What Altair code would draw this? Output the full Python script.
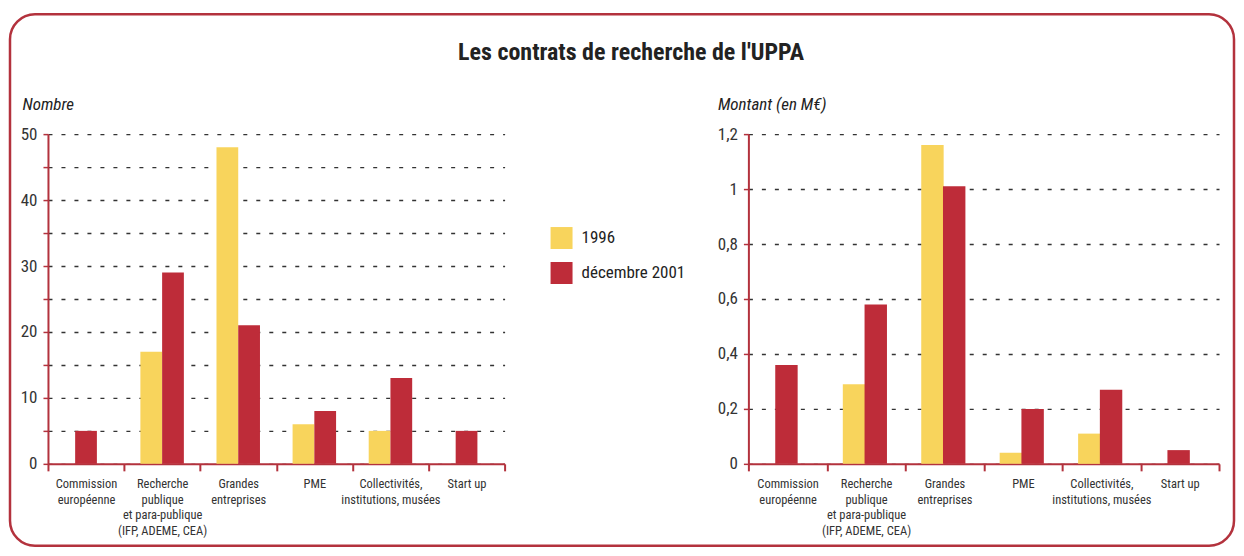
import altair as alt
import pandas as pd

categories = [
    "Commission\neuropéenne",
    "Recherche\npublique\net para-publique\n(IFP, ADEME, CEA)",
    "Grandes\nentreprises",
    "PME",
    "Collectivités,\ninstitutions, musées",
    "Start up",
]
series = ["1996", "décembre 2001"]
nombre_1996 = [0, 17, 48, 6, 5, 0]
nombre_2001 = [5, 29, 21, 8, 13, 5]
montant_1996 = [0, 0.29, 1.16, 0.04, 0.11, 0]
montant_2001 = [0.36, 0.58, 1.01, 0.20, 0.27, 0.05]
nombre_ticks = [0, 5, 10, 15, 20, 25, 30, 35, 40, 45, 50]
montant_ticks = [0, 0.2, 0.4, 0.6, 0.8, 1.0, 1.2]

YELLOW = "#F8D45C"
RED = "#BE2C39"
AXIS_RED = "#B3323D"
FONT = "Roboto Condensed"
SLOTS = ["s0", "s1", "L", "C", "R", "s5", "s6"]


def long_table(a, b):
    rows = []
    for cat, va, vb in zip(categories, a, b):
        both = va > 0 and vb > 0
        if va > 0:
            rows.append({"cat": cat, "serie": series[0], "v": va, "slot": "L" if both else "C"})
        if vb > 0:
            rows.append({"cat": cat, "serie": series[1], "v": vb, "slot": "R" if both else "C"})
    return pd.DataFrame(rows)


def panel(df, width, ytitle, ydomain, yvalues, labelexpr, title_x, frame=False):
    step = width / len(categories)
    bars = alt.Chart(df).mark_bar(width=2 * step / 7).encode(
        x=alt.X(
            "cat:N",
            sort=categories,
            scale=alt.Scale(domain=categories, paddingInner=0, paddingOuter=0),
            axis=alt.Axis(
                title=None,
                labelAngle=0,
                labelAlign="center",
                labelBaseline="top",
                labelExpr="split(datum.label, '\\n')",
                labelFontSize=12.5,
                labelLineHeight=15.5,
                labelColor="#333333",
                labelFont=FONT,
                labelPadding=7,
                domainColor=AXIS_RED,
                domainWidth=2,
                tickColor=AXIS_RED,
                tickWidth=2,
                tickSize=7,
                tickBand="extent",
                grid=False,
            ),
        ),
        xOffset=alt.XOffset("slot:N", scale=alt.Scale(domain=SLOTS, paddingInner=0, paddingOuter=0)),
        y=alt.Y(
            "v:Q",
            scale=alt.Scale(domain=ydomain, nice=False),
            axis=alt.Axis(
                title=ytitle,
                titleAngle=0,
                titleAlign="left",
                titleBaseline="alphabetic",
                titleX=title_x,
                titleY=-25,
                titleFont=FONT,
                titleFontSize=17,
                titleFontStyle="italic",
                titleFontWeight="normal",
                titleColor="#222222",
                values=yvalues,
                labelExpr=labelexpr,
                labelFont=FONT,
                labelFontSize=17,
                labelColor="#333333",
                labelPadding=6,
                domainColor=AXIS_RED,
                domainWidth=2,
                tickColor=AXIS_RED,
                tickWidth=1.5,
                tickSize=5,
                grid=True,
                gridColor="#333333",
                gridDash=[4, 9],
                gridWidth=1.4,
            ),
        ),
        color=alt.Color(
            "serie:N",
            scale=alt.Scale(domain=series, range=[YELLOW, RED]),
            legend=alt.Legend(
                orient="none",
                legendX=503,
                legendY=93,
                title=None,
                symbolType="square",
                symbolSize=484,
                symbolStrokeWidth=0,
                labelFont=FONT,
                labelFontSize=17,
                labelColor="#222222",
                labelOffset=9,
                rowPadding=13,
            ),
        ),
    )
    layers = [bars]
    if frame:
        border = alt.Chart(pd.DataFrame({"k": [0]})).mark_rect(
            filled=False, stroke=AXIS_RED, strokeWidth=2.5, cornerRadius=25
        ).encode(
            x=alt.value(-38), x2=alt.value(1187), y=alt.value(-120), y2=alt.value(412)
        )
        layers = [border, bars]
    return alt.layer(*layers).properties(width=width, height=330)


left = panel(
    long_table(nombre_1996, nombre_2001), 457, "Nombre", [0, 50], nombre_ticks,
    "datum.value % 10 === 0 ? datum.label : ''", -26, frame=True,
)
right = panel(
    long_table(montant_1996, montant_2001), 471, "Montant (en M€)", [0, 1.2], montant_ticks,
    "replace(format(datum.value, '.1~f'), '.', ',')", -31,
)

chart = alt.hconcat(left, right, spacing=244, bounds="flush").properties(
    title=alt.TitleParams(
        "Les contrats de recherche de l'UPPA",
        font=FONT,
        fontSize=24,
        fontWeight="bold",
        color="#222222",
        anchor="middle",
        offset=-52,
        dx=9,
    ),
    padding={"left": 0, "top": 4, "right": 0, "bottom": 0},
).configure_view(stroke=None)

chart.save("out.html", embed_options={"renderer": "svg", "actions": False})
